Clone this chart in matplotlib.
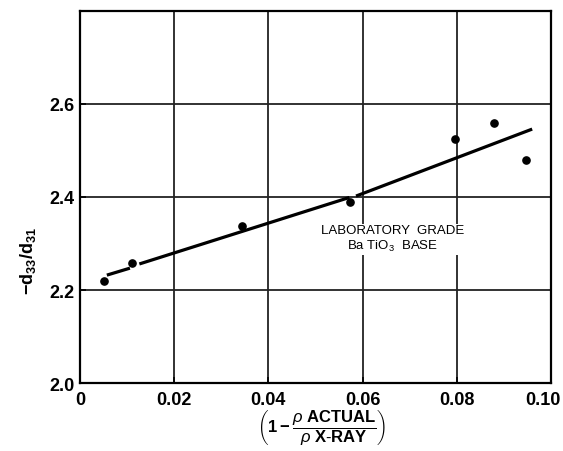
import matplotlib
matplotlib.use("Agg")
import matplotlib.pyplot as plt
import matplotlib.transforms as mtransforms

plt.rcParams["font.family"] = ["Liberation Sans", "DejaVu Sans"]
plt.rcParams["mathtext.fontset"] = "custom"
plt.rcParams["mathtext.rm"] = "Liberation Sans"
plt.rcParams["mathtext.it"] = "Liberation Sans:italic"
plt.rcParams["mathtext.bf"] = "Liberation Sans:bold"

porosity = [0.0051, 0.0110, 0.0343, 0.0574, 0.0797, 0.0879, 0.0947]
d_ratio = [2.219, 2.258, 2.338, 2.389, 2.525, 2.559, 2.480]

# hand drawn fit line, broken where it passes the dots
fit_segments = [
    ([0.0057, 0.0106], [2.232, 2.247]),
    ([0.0126, 0.0572], [2.256, 2.399]),
    ([0.0586, 0.0960], [2.402, 2.546]),
]

xticks = [0, 0.02, 0.04, 0.06, 0.08, 0.10]
xtick_labels = ["0", "0.02", "0.04", "0.06", "0.08", "0.10"]
yticks = [2.0, 2.2, 2.4, 2.6]
ytick_labels = ["2.0", "2.2", "2.4", "2.6"]

fig = plt.figure(figsize=(5.63, 4.52), dpi=100)
ax = fig.add_axes([0.1421, 0.1504, 0.8366, 0.8231])

ax.set_xlim(0, 0.10)
ax.set_ylim(2.0, 2.8)

# grid
for gx in [0.02, 0.04, 0.06, 0.08]:
    ax.axvline(gx, color="#222222", lw=1.3, zorder=1)
for gy in [2.2, 2.4, 2.6]:
    ax.axhline(gy, color="#222222", lw=1.3, zorder=1)

for xs, ys in fit_segments:
    ax.plot(xs, ys, color="black", lw=2.3, solid_capstyle="butt", zorder=3)

ax.plot(porosity, d_ratio, "o", color="black", ms=5.2, zorder=4)

ax.text(0.0664, 2.31, "LABORATORY  GRADE\nBa TiO$_3$  BASE", ha="center",
        va="center", fontsize=9.5, linespacing=1.15,
        bbox=dict(facecolor="white", edgecolor="none", pad=1), zorder=2)

ax.set_xticks(xticks)
ax.set_xticklabels(xtick_labels)
ax.set_yticks(yticks)
ax.set_yticklabels(ytick_labels)
ax.tick_params(direction="in", length=4, width=1.2, labelsize=13)
ax.tick_params(axis="x", pad=6)
ax.tick_params(axis="y", pad=4)
for lbl in ax.get_xticklabels() + ax.get_yticklabels():
    lbl.set_fontweight("bold")
# last label sits against the right edge, nudge it in
last = ax.get_xticklabels()[-1]
last.set_transform(last.get_transform() +
                   mtransforms.ScaledTranslation(-6 / 72, 0, fig.dpi_scale_trans))

for side in ["left", "right", "top", "bottom"]:
    ax.spines[side].set_linewidth(1.6)
    ax.spines[side].set_color("black")

ax.set_ylabel(r"$\mathbf{-d_{33}/d_{31}}$", fontsize=13)
ax.yaxis.set_label_coords(-0.089, 0.33)

fig.text(0.572, 0.052,
         r"$\left(\mathbf{1-}\dfrac{\rho\ \mathbf{ACTUAL}}{\rho\ \mathbf{X\text{-}RAY}}\right)$",
         ha="center", va="center", fontsize=12)

fig.savefig("out.png", dpi=100)
